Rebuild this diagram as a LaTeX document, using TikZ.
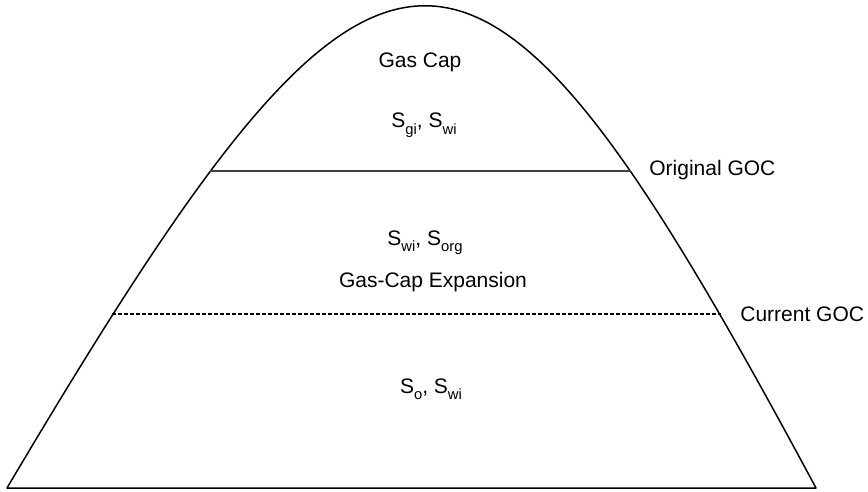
\documentclass[tikz,border=0pt]{standalone}
\usepackage{fontspec}
\setmainfont{Liberation Sans}
\usetikzlibrary{positioning}

\newcommand{\satsub}[1]{\raisebox{-3.4pt}{\fontsize{7.4}{8}\selectfont #1}}

\begin{document}
\begin{tikzpicture}[
    x=0.5pt, y=-0.5pt,
    zone/.style={font=\fontsize{10.5}{12}\selectfont, anchor=base, inner sep=0pt},
    goc/.style={zone, anchor=base west},
    original/.style={line width=1pt, draw=black!75},
    current/.style={line width=0.6pt, dash pattern=on 2pt off 1pt}
]
\useasboundingbox (0,0) rectangle (868,492);

\coordinate (bl) at (7,488);
\coordinate (br) at (816,488);
\coordinate (ogocL) at (210,171);
\coordinate (ogocR) at (631,171);
\coordinate (cgocL) at (112,314);
\coordinate (cgocR) at (721,314);

\draw[line width=0.75pt, line join=round] (bl) .. controls (388,-155) and (471,-155) .. (br) -- cycle;

\draw[original] (ogocL) -- (ogocR);
\draw[current] (cgocL) -- (cgocR);

\node[zone] (gascap) at (420,68) {Gas Cap};
\node[zone] (capsat) at (424,128) {S\satsub{gi}, S\satsub{wi}};
\node[zone] (sweptsat) at (425,245) {S\satsub{wi}, S\satsub{org}};
\node[zone] (expansion) at (433,287) {Gas-Cap Expansion};
\node[zone] (oilsat) at (431,393) {S\satsub{o}, S\satsub{wi}};
\node[goc] (ogoc) at (649,176) {Original GOC};
\node[goc] (cgoc) at (740,321) {Current GOC};

\end{tikzpicture}
\end{document}
